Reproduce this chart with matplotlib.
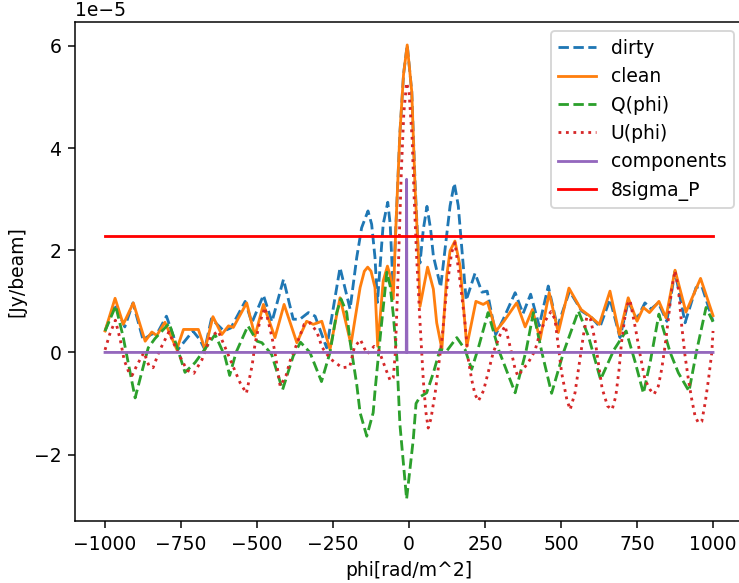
import matplotlib
matplotlib.use('Agg')
import matplotlib.pyplot as plt
import numpy as np

# values in units of 1e-5 Jy/beam
dirty_phi = [-1000, -968, -935, -908, -875, -849, -826, -798, -760, -738, -711, -688, -672, -650,
             -609, -586, -539, -517, -479, -451, -413, -381, -359, -331, -309, -271, -227, -194,
             -172, -156, -135, -123, -112, -104, -85, -70, -62, -57, -52, -43, -30, -18, -6, 9,
             20, 30, 36, 47, 59, 71, 80, 104, 135, 149, 162, 173, 188, 217, 240, 257, 285, 310,
             349, 375, 400, 428, 458, 488, 528, 568, 601, 628, 661, 694, 721, 749, 776, 796, 820,
             848, 875, 908, 944, 963, 1000]
dirty_amp = [0.42, 0.94, 0.50, 0.97, 0.25, 0.35, 0.40, 0.71, 0.06, 0.22, 0.42, 0.25, 0.06, 0.66,
             0.42, 0.48, 1.0, 0.58, 1.12, 0.60, 1.43, 0.65, 0.65, 0.78, 0.71, 0.09, 1.66, 0.85,
             1.86, 2.44, 2.77, 2.51, 1.86, 0.98, 2.51, 2.94, 2.51, 1.86, 1.2, 2.5, 4.3, 5.45, 6.02,
             5.1, 3.3, 2.0, 1.75, 2.41, 2.86, 2.41, 1.89, 1.28, 2.87, 3.31, 2.87, 2.08, 1.02, 1.55,
             1.18, 1.2, 0.35, 0.65, 1.17, 0.76, 1.14, 0.52, 1.30, 0.50, 1.2, 0.81, 0.68, 0.50, 1.04,
             0.29, 1.0, 0.65, 0.97, 0.85, 0.97, 0.61, 1.59, 0.58, 1.27, 1.30, 0.61]

clean_phi = [-1000, -967, -940, -907, -868, -846, -830, -803, -764, -742, -693, -671, -645, -616,
             -594, -578, -534, -507, -479, -441, -411, -369, -337, -315, -287, -260, -227, -191,
             -161, -147, -136, -125, -112, -103, -85, -71, -62, -52, -43, -30, -18, -6, 9, 20, 31,
             36, 61, 80, 91, 108, 124, 135, 151, 168, 179, 190, 220, 244, 258, 286, 312, 354, 382,
             406, 431, 461, 491, 526, 566, 595, 626, 661, 692, 721, 750, 771, 791, 822, 845, 875,
             911, 959, 1000]
clean_amp = [0.42, 1.06, 0.55, 0.97, 0.22, 0.40, 0.33, 0.59, 0.06, 0.45, 0.45, 0.06, 0.70, 0.35,
             0.52, 0.49, 0.97, 0.32, 0.94, 0.29, 0.94, 0.19, 0.61, 0.55, 0.61, 0.06, 1.07, 0.16,
             1.27, 1.59, 1.67, 1.59, 1.27, 0.12, 1.4, 1.69, 1.5, 1.05, 2.5, 4.3, 5.45, 6.02, 5.1,
             3.2, 1.86, 0.9, 1.67, 1.24, 0.58, 0.07, 1.5, 1.99, 2.18, 1.69, 0.91, 0.12, 1.0, 0.94,
             0.99, 0.42, 0.61, 0.97, 0.50, 0.84, 0.25, 1.17, 0.39, 1.26, 0.84, 0.71, 0.55, 1.2,
             0.35, 1.07, 0.61, 0.88, 0.78, 1.0, 0.68, 1.61, 0.79, 1.45, 0.72]

q_phi = [-1000, -965, -941, -901, -874, -858, -836, -789, -764, -737, -704, -671, -638, -606,
         -590, -569, -530, -500, -484, -452, -416, -381, -357, -326, -288, -260, -238, -224, -205,
         -194, -172, -161, -139, -118, -112, -95, -73, -62, -52, -40, -30, -8, 14, 23, 36, 58, 80,
         102, 124, 157, 184, 206, 228, 260, 296, 349, 385, 409, 437, 469, 508, 557, 590, 630,
         674, 714, 743, 771, 793, 822, 859, 886, 921, 946, 977, 1000]
q_amp = [0.42, 0.91, 0.32, -0.89, -0.27, 0.09, 0.27, 0.57, 0.12, -0.39, -0.20, 0.07, 0.35, -0.07,
         -0.45, 0.0, 0.52, 0.22, 0.19, -0.04, -0.73, -0.07, 0.2, 0.0, -0.57, 0.0, 0.78, 1.05, 0.78,
         0.22, -0.63, -1.18, -1.64, -1.18, -0.76, 0.29, 1.57, 1.3, 0.75, -0.10, -1.41, -2.87,
         -1.7, -1.0, -0.87, -0.79, -0.40, 0.06, 0.03, 0.29, 0.06, -0.33, 0.09, 0.78, 0.03, -0.79,
         0.03, 0.78, 0.0, -0.8, 0.0, 0.81, 0.32, -0.53, 0.05, 0.42, -0.17, -0.80, -0.2, 0.75,
         0.0, -0.4, -0.76, 0.03, 0.88, 0.6]

u_phi = [-1000, -985, -966, -950, -937, -921, -911, -895, -872, -855, -842, -822, -790, -763,
         -730, -708, -681, -653, -628, -588, -572, -556, -535, -516, -507, -493, -474, -451,
         -441, -424, -405, -390, -370, -345, -325, -303, -286, -260, -220, -195, -180, -160,
         -138, -115, -100, -75, -62, -52, -45, -35, -25, -17, -8, 0, 10, 17, 25, 36, 47, 55, 63,
         72, 86, 97, 108, 124, 140, 151, 167, 184, 195, 206, 217, 228, 245, 260, 277, 300, 316,
         337, 349, 358, 392, 414, 431, 447, 467, 480, 491, 502, 519, 530, 546, 563, 574, 585,
         597, 613, 625, 635, 653, 668, 680, 691, 699, 715, 727, 747, 760, 776, 793, 806, 820,
         831, 842, 853, 864, 875, 886, 897, 908, 919, 930, 941, 952, 963, 974, 985, 996, 1000]
u_amp = [0.05, 0.35, 0.63, 0.25, -0.15, -0.4, -0.45, -0.25, 0.0, -0.27, -0.30, 0.02, 0.40, 0.03,
         -0.35, -0.41, -0.14, 0.30, 0.42, -0.14, -0.37, -0.59, -0.80, -0.25, 0.15, 0.55, 0.88,
         0.3, 0.0, -0.66, -0.46, -0.14, 0.15, 0.55, 0.58, 0.40, 0.1, -0.12, -0.30, -0.28, 0.1,
         0.25, -0.03, 0.12, 0.05, -0.35, -0.55, -0.5, 0.0, 1.7, 3.6, 4.7, 5.28, 5.1, 4.2, 3.0,
         1.86, 0.6, -0.55, -1.15, -1.48, -1.3, -0.79, -0.27, 0.25, 1.24, 1.95, 2.15, 1.43, 0.58,
         -0.14, -0.53, -0.82, -0.95, -0.75, -0.40, 0.0, 0.35, 0.52, 0.0, -0.33, -0.46, -0.2,
         0.03, 0.39, 0.61, 0.8, 0.65, 0.12, -0.4, -0.92, -1.12, -0.79, -0.1, 0.35, 0.7, 0.65,
         0.2, -0.3, -0.7, -1.05, -1.12, -0.86, -0.33, 0.2, 0.91, 1.02, 0.4, -0.04, -0.53, -0.73,
         -0.82, -0.66, -0.33, 0.12, 0.65, 1.24, 1.6, 1.24, 0.52, -0.07, -0.53, -0.92, -1.25,
         -1.38, -1.35, -0.99, -0.53, 0.0, 0.42]

comp_phi = [-1000, -9, -8, -7, 1000]
comp_amp = [0, 0, 3.39, 0, 0]

sigma_phi = [-1000, 1000]
sigma_amp = [2.27, 2.27]

unit = 1e-5

fig = plt.figure(figsize=(739 / 135, 583 / 135), dpi=135)
ax = fig.add_axes([0.101, 0.1055, 0.905, 0.8568])

ax.plot(dirty_phi, np.array(dirty_amp) * unit, '--', label='dirty')
ax.plot(clean_phi, np.array(clean_amp) * unit, label='clean')
ax.plot(q_phi, np.array(q_amp) * unit, '--', label='Q(phi)')
ax.plot(u_phi, np.array(u_amp) * unit, ':', label='U(phi)')
ax.plot(comp_phi, np.array(comp_amp) * unit, label='components')
ax.plot(sigma_phi, np.array(sigma_amp) * unit, color='r', label='8sigma_P')

ax.set_xlim(-1100, 1100)
ax.set_ylim(-3.31e-5, 6.47e-5)
ax.set_xlabel('phi[rad/m^2]')
ax.set_ylabel('[Jy/beam]')
ax.legend(loc='upper right')

fig.savefig('out.png', dpi=135)
